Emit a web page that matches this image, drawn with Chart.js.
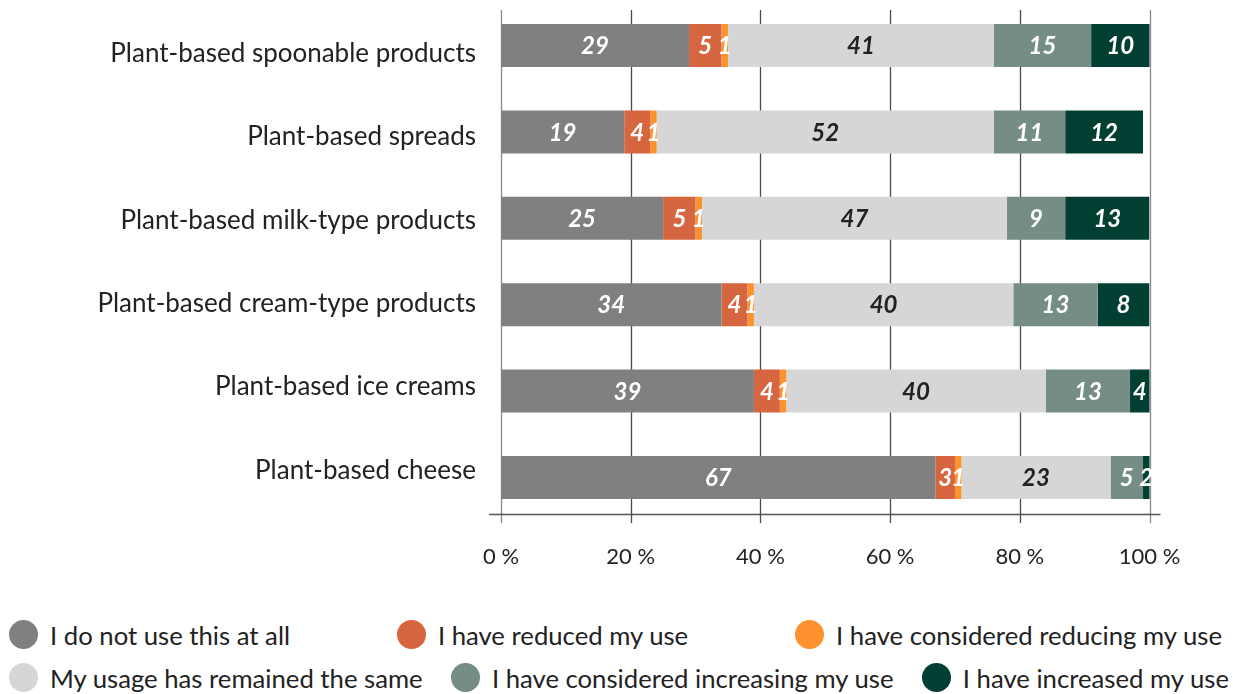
<!DOCTYPE html>
<html>
<head>
<meta charset="utf-8">
<script src="https://cdn.jsdelivr.net/npm/chart.js@4"></script>
<style>
  body { margin: 0; background: #fff; font-family: Lato, sans-serif; }
  #wrap { position: relative; width: 1233px; height: 590px; }
  .legend { position: absolute; left: 9px; right: 4px; top: 613px; }
  .row { display: flex; justify-content: space-between; align-items: center; height: 43px; }
  .row.first { padding-right: 7px; }
  .item { display: flex; align-items: center; font-size: 25.7px; color: #222; white-space: nowrap; }
  .dot { width: 29px; height: 29px; border-radius: 50%; margin-right: 12px; }
</style>
</head>
<body>
<div id="wrap"><canvas id="chart"></canvas></div>
<div class="legend" id="legend"></div>
<script>
// catégories (de haut en bas)
const categories = [
  "Plant-based spoonable products",
  "Plant-based spreads",
  "Plant-based milk-type products",
  "Plant-based cream-type products",
  "Plant-based ice creams",
  "Plant-based cheese"
];
const seriesNames = [
  "I do not use this at all",
  "I have reduced my use",
  "I have considered reducing my use",
  "My usage has remained the same",
  "I have considered increasing my use",
  "I have increased my use"
];
// valeurs en %
const notAtAll = [29, 19, 25, 34, 39, 67];
const reduced = [5, 4, 5, 4, 4, 3];
const consideredReducing = [1, 1, 1, 1, 1, 1];
const remainedSame = [41, 52, 47, 40, 40, 23];
const consideredIncreasing = [15, 11, 9, 13, 13, 5];
const increased = [10, 12, 13, 8, 4, 2];
const xTicks = [0, 20, 40, 60, 80, 100];

const colors = ["#808080", "#d6663f", "#fe922f", "#d6d6d6", "#758d85", "#023f33"];
const textColors = ["#fff", "#fff", "#fff", "#222", "#fff", "#fff"];
const seriesData = [notAtAll, reduced, consideredReducing, remainedSame, consideredIncreasing, increased];

const labelSpread = 0.964; // les libellés sont un peu plus serrés que les barres

// lignes verticales + axe + étiquettes
const decorPlugin = {
  id: "decor",
  beforeDatasetsDraw(chart) {
    const ctx = chart.ctx;
    const x = chart.scales.x;
    const area = chart.chartArea;
    ctx.save();
    ctx.lineWidth = 1.3;
    xTicks.forEach(t => {
      const px = Math.round(x.getPixelForValue(t)) + 0.5;
      ctx.strokeStyle = (t === 0 || t === 100) ? "#8a8a8a" : "#4a4a4a";
      ctx.beginPath();
      ctx.moveTo(px, area.top + 7.7);
      ctx.lineTo(px, area.top + 520.7);
      ctx.stroke();
    });
    const ay = Math.round(area.top + 511.7) + 0.5;
    ctx.strokeStyle = "#555";
    ctx.beginPath();
    ctx.moveTo(area.left - 12, ay);
    ctx.lineTo(area.right + 11, ay);
    ctx.stroke();
    ctx.restore();
  },
  afterDatasetsDraw(chart) {
    const ctx = chart.ctx;
    const y = chart.scales.y;
    const area = chart.chartArea;
    ctx.save();
    ctx.textBaseline = "middle";

    // libellés des catégories
    const mid = (area.top + area.bottom) / 2;
    ctx.font = "26px Lato";
    ctx.textAlign = "right";
    ctx.fillStyle = "#222";
    categories.forEach((c, i) => {
      const py = y.getPixelForValue(i);
      ctx.fillText(c, area.left - 25, mid + (py - mid) * labelSpread + 0.5);
    });

    // valeurs dans les barres
    ctx.font = "italic bold 24px Lato";
    ctx.textAlign = "center";
    chart.data.datasets.forEach((ds, i) => {
      const meta = chart.getDatasetMeta(i);
      meta.data.forEach((bar, j) => {
        const right = Math.min(bar.x, area.right);
        const cx = (right + bar.base) / 2;
        ctx.fillStyle = textColors[i];
        ctx.fillText(ds.data[j], cx, bar.y + 1);
      });
    });
    ctx.restore();
  }
};

const ctx = document.getElementById("chart").getContext("2d");
new Chart(ctx, {
  type: "bar",
  data: {
    labels: categories,
    datasets: seriesNames.map((name, i) => ({
      label: name,
      data: seriesData[i],
      backgroundColor: colors[i],
      barPercentage: 0.4977,
      categoryPercentage: 1
    }))
  },
  options: {
    indexAxis: "y",
    responsive: true,
    maintainAspectRatio: false,
    animation: false,
    layout: { padding: { top: 2.3, right: 83.5, bottom: 0, left: 0 } },
    scales: {
      y: {
        stacked: true,
        grid: { display: false, drawTicks: false },
        border: { display: false },
        ticks: { display: false },
        afterFit: s => {
          s.width = 501;
          s.paddingTop = 0;
          s.paddingBottom = 0;
        }
      },
      x: {
        stacked: true,
        min: 0,
        max: 100,
        grid: { display: false, drawTicks: false },
        border: { display: false },
        ticks: {
          stepSize: 20,
          color: "#222",
          font: { family: "Lato", size: 22 },
          padding: 23.5,
          callback: v => v + " %"
        },
        afterFit: s => { s.height = 69.3; }
      }
    },
    plugins: {
      legend: { display: false },
      tooltip: { enabled: false }
    }
  },
  plugins: [decorPlugin]
});

// légende en HTML, deux lignes justifiées
const legend = document.getElementById("legend");
[[0, 1, 2], [3, 4, 5]].forEach((idx, r) => {
  const row = document.createElement("div");
  row.className = r === 0 ? "row first" : "row";
  idx.forEach(i => {
    const item = document.createElement("div");
    item.className = "item";
    item.innerHTML = `<span class="dot" style="background:${colors[i]}"></span>${seriesNames[i]}`;
    row.appendChild(item);
  });
  legend.appendChild(row);
});
</script>
</body>
</html>
